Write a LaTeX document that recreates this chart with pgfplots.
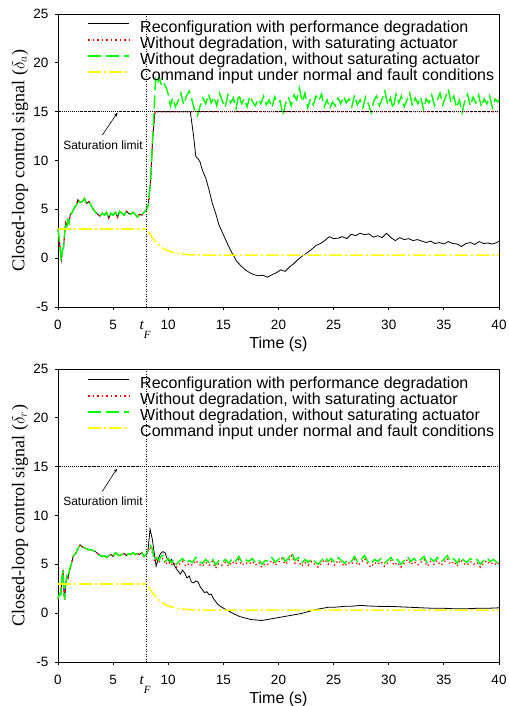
\documentclass[border=0pt]{standalone}
\usepackage{pgfplots}
\pgfplotsset{compat=1.18}
\usepackage{fontspec}
\setmainfont{Liberation Sans}
\newfontfamily\seriffont{Liberation Serif}
\usetikzlibrary{arrows.meta}
\definecolor{cgreen}{RGB}{0,255,0}
\definecolor{cyellow}{RGB}{255,255,0}
\definecolor{cred}{RGB}{255,0,0}
\pgfplotsset{
  myax/.style={
    scale only axis, width=441bp, height=293bp,
    xmin=0, xmax=40, ymin=-5, ymax=25,
    xtick={0,5,10,15,20,25,30,35,40},
    ytick={-5,0,5,10,15,20,25},
    tick align=outside, major tick length=3bp,
    xtick pos=bottom, ytick pos=left,
    axis line style={line width=0.9bp},
    tick style={line width=0.8bp, black},
    /pgf/number format/assume math mode=true,
    tick label style={font=\fontsize{13.5bp}{15bp}\selectfont},
    xticklabel style={yshift=-7bp},
    yticklabel style={xshift=-3bp},
    every axis y label/.style={at={(rel axis cs:-0.0862,0.5)}, rotate=90, anchor=center},
    every axis x label/.style={at={(rel axis cs:0.5,-0.1416)}, anchor=base},
    xlabel={\fontsize{16bp}{18bp}\selectfont Time (s)},
    legend style={draw=none, fill=none, anchor=north west,
      font=\fontsize{16bp}{16bp}\selectfont, row sep=0pt,
      nodes={inner sep=0pt, text height=11.5bp, text depth=4.5bp},
      /tikz/every odd column/.append style={column sep=10bp}},
    legend cell align=left,
    clip=false,
  },
  blk/.style={black, line width=0.8bp,
    legend image code/.code={\draw[black, line width=1bp] (0bp,5.5bp) -- (41bp,5.5bp);}},
  rdd/.style={cred, line width=1.3bp, dash pattern=on 1.3bp off 3bp,
    legend image code/.code={\draw[cred, line width=2bp, dash pattern=on 1.5bp off 3bp] (0bp,5.5bp) -- (41bp,5.5bp);}},
  grn/.style={cgreen, line width=1.4bp, dash pattern=on 13bp off 5bp,
    legend image code/.code={\draw[cgreen, line width=2bp, dash pattern=on 13bp off 5bp] (0bp,5.5bp) -- (41bp,5.5bp);}},
  yel/.style={cyellow, line width=1.5bp, dash pattern=on 13bp off 3bp on 2bp off 3bp,
    legend image code/.code={\draw[cyellow, line width=2bp, dash pattern=on 13bp off 3bp on 2bp off 3bp] (0bp,5.5bp) -- (41bp,5.5bp);}},
}
\begin{document}
\begin{tikzpicture}
\path[use as bounding box] (0bp,0bp) rectangle (509bp,-706bp);
% ---------------- top panel ----------------
\begin{axis}[myax, at={(58bp,-307bp)}, anchor=south west,
  legend style={at={(rel axis cs:0.059,0.98294)}},
  ylabel={\fontsize{18bp}{20bp}\selectfont\seriffont Closed-loop control signal ($\delta_{a}$)}]
\addplot[blk] coordinates {
(0,3.0) (0.15,1.5) (0.3,-0.2) (0.4,0.8) (0.5,1.1) (0.6,2.5) (0.7,3.6) (0.8,3.3) (0.9,3.9) (1.0,3.6) (1.1,4.4) (1.3,4.7) (1.5,5.2) (1.7,5.5) (1.8,6.0) (2.0,5.7) (2.2,5.8) (2.4,6.1) (2.6,5.6) (2.8,5.8) (3.0,5.4) (3.2,5.0) (3.4,4.7) (3.6,4.5) (3.8,4.3) (4.0,4.6) (4.2,4.4) (4.4,4.7) (4.6,4.1) (4.8,4.6) (5.0,4.4) (5.2,4.7) (5.4,4.2) (5.6,4.8) (5.8,4.6) (6.0,4.4) (6.2,4.8) (6.4,4.6) (6.6,4.5) (6.8,4.7) (7.0,4.5) (7.2,4.2) (7.4,4.5) (7.6,4.4) (7.8,4.7) (8.0,4.9) (8.2,5.5) (8.4,8.0) (8.6,12.5)
(8.8,15) (12.0,15) (12.3,12.5) (12.5,10.4) (12.7,10.2) (12.9,9.8) (13.1,9.0) (13.4,8.2) (13.7,7.0) (14.0,5.6) (14.3,4.6) (14.6,3.4) (15.0,2.4) (15.4,1.4) (15.8,0.5) (16.2,-0.3) (16.6,-0.8) (17.0,-1.2) (17.4,-1.5) (17.8,-1.7) (18.2,-1.8) (18.6,-1.75) (19.0,-1.95) (19.4,-1.7) (19.8,-1.5) (20.2,-1.2) (20.6,-1.35) (21.0,-0.9) (21.4,-0.55) (21.8,-0.1) (22.2,0.25) (22.6,0.55) (23.0,0.9) (23.4,1.3) (23.8,1.5) (24.2,1.8) (24.6,2.2) (25.0,2.0) (25.4,2.05) (25.8,2.2) (26.2,2.0) (26.6,2.45) (27.0,2.3) (27.4,2.55) (27.8,2.4) (28.2,2.5) (28.6,2.15) (29.0,2.3) (29.4,2.1) (29.8,2.55) (30.2,2.1) (30.6,1.8) (31.0,2.1) (31.4,1.9) (31.8,2.0) (32.2,1.8) (32.6,1.9) (33.0,1.75) (33.4,1.6) (33.8,1.75) (34.2,1.5) (34.6,1.6) (35.0,1.45) (35.4,1.7) (35.8,1.5) (36.2,1.45) (36.6,1.2) (37.0,1.5) (37.4,1.6) (37.8,1.4) (38.2,1.7) (38.6,1.5) (39.0,1.55) (39.4,1.45) (39.8,1.6) (40,1.75)};
\addlegendentry{Reconfiguration with performance degradation}
\addplot[rdd] coordinates {
(0,3.0) (0.15,1.5) (0.3,-0.2) (0.4,0.8) (0.5,1.1) (0.6,2.5) (0.7,3.6) (0.8,3.3) (0.9,3.9) (1.0,3.6) (1.1,4.4) (1.3,4.7) (1.5,5.2) (1.7,5.5) (1.8,6.0) (2.0,5.7) (2.2,5.8) (2.4,6.1) (2.6,5.6) (2.8,5.8) (3.0,5.4) (3.2,5.0) (3.4,4.7) (3.6,4.5) (3.8,4.3) (4.0,4.6) (4.2,4.4) (4.4,4.7) (4.6,4.1) (4.8,4.6) (5.0,4.4) (5.2,4.7) (5.4,4.2) (5.6,4.8) (5.8,4.6) (6.0,4.4) (6.2,4.8) (6.4,4.6) (6.6,4.5) (6.8,4.7) (7.0,4.5) (7.2,4.2) (7.4,4.5) (7.6,4.4) (7.8,4.7) (8.0,4.9) (8.2,5.5) (8.4,8.0) (8.6,12.5)
(8.8,15) (40,15)};
\addlegendentry{Without degradation, with saturating actuator}
\addplot[grn] coordinates {
(0,3.0) (0.15,1.5) (0.3,-0.2) (0.4,0.8) (0.5,1.1) (0.6,2.5) (0.7,3.6) (0.8,3.3) (0.9,3.9) (1.0,3.6) (1.1,4.4) (1.3,4.7) (1.5,5.2) (1.7,5.5) (1.8,6.0) (2.0,5.7) (2.2,5.8) (2.4,6.1) (2.6,5.6) (2.8,5.8) (3.0,5.4) (3.2,5.0) (3.4,4.7) (3.6,4.5) (3.8,4.3) (4.0,4.6) (4.2,4.4) (4.4,4.7) (4.6,4.1) (4.8,4.6) (5.0,4.4) (5.2,4.7) (5.4,4.2) (5.6,4.8) (5.8,4.6) (6.0,4.4) (6.2,4.8) (6.4,4.6) (6.6,4.5) (6.8,4.7) (7.0,4.5) (7.2,4.2) (7.4,4.5) (7.6,4.4) (7.8,4.7) (8.0,4.9) (8.2,5.5) (8.4,8.0) (8.6,12.5)
(8.75,16) (8.85,18.3) (9.0,17.8) (9.2,18.5) (9.4,17.6) (9.6,17.9) (9.8,17.5) (10.0,16.8) (10.2,15.6)
(10.4,16.4) (10.65,15.5) (10.9,16.1) (11.15,16.9) (11.4,15.7) (11.65,16.6) (11.9,17.1) (12.15,16.2) (12.4,15.1) (12.65,14.6) (12.9,15.6) (13.15,16.4) (13.4,15.8) (13.65,16.8) (13.9,15.9) (14.15,16.5) (14.4,15.6) (14.65,16.9) (14.9,16.1) (15.15,15.4) (15.4,16.7) (15.65,15.9) (15.9,16.4) (16.15,15.3) (16.4,16.8) (16.65,15.8) (16.9,16.3) (17.15,15.5) (17.4,16.6) (17.65,16.0) (17.9,15.6) (18.15,16.3) (18.4,15.8) (18.65,16.6) (18.9,15.7) (19.15,16.2) (19.4,15.4) (19.65,16.5) (19.9,15.9) (20.15,16.1) (20.4,14.6) (20.65,15.9) (20.9,16.5) (21.15,15.6) (21.4,16.7) (21.65,16.2) (21.9,17.4) (22.15,16.0) (22.4,16.9) (22.65,15.4) (22.9,16.3) (23.15,15.7) (23.4,16.6) (23.65,16.1) (23.9,16.8) (24.15,15.5) (24.4,16.2) (24.65,15.3) (24.9,16.0) (25.15,15.6) (25.4,16.4) (25.65,15.8) (25.9,16.6) (26.15,15.9) (26.4,16.3) (26.65,15.5) (26.9,16.7) (27.15,15.7) (27.4,16.2) (27.65,15.4) (27.9,16.5) (28.15,15.8) (28.4,14.9) (28.65,16.1) (28.9,16.6) (29.15,15.6) (29.4,16.3) (29.65,17.1) (29.9,15.7) (30.15,16.4) (30.4,15.3) (30.65,16.8) (30.9,15.9) (31.15,16.6) (31.4,15.5) (31.65,16.2) (31.9,16.9) (32.15,15.6) (32.4,16.4) (32.65,15.8) (32.9,16.5) (33.15,15.2) (33.4,16.3) (33.65,15.9) (33.9,16.7) (34.15,15.6) (34.4,16.2) (34.65,16.9) (34.9,15.7) (35.15,16.5) (35.4,17.3) (35.65,15.9) (35.9,16.6) (36.15,15.4) (36.4,16.2) (36.65,14.9) (36.9,16.1) (37.15,16.8) (37.4,15.6) (37.65,16.5) (37.9,15.9) (38.15,16.7) (38.4,15.5) (38.65,16.3) (38.9,15.8) (39.15,16.6) (39.4,15.4) (39.65,16.3) (39.9,16.0) (40,16.2)};
\addlegendentry{Without degradation, without saturating actuator}
\addplot[yel] coordinates {
(0,3) (8,3)};
\addlegendentry{Command input under normal and fault conditions}
\addplot[yel, forget plot] coordinates {
(8.2,2.7) (8.5,2.2) (8.8,1.75) (9.1,1.4) (9.4,1.1) (9.7,0.9) (10.0,0.75) (10.4,0.6) (10.8,0.5) (11.3,0.42) (12,0.35) (13,0.32) (14,0.3) (40,0.3)};
\addplot[black, line width=0.9bp, dash pattern=on 1.5bp off 0.8bp on 0.8bp off 0.8bp, forget plot] coordinates {(0,15) (40,15)};
\addplot[black, line width=1.1bp, dash pattern=on 1bp off 1.5bp, forget plot] coordinates {(8,-5) (8,25)};
\draw[-{Stealth[length=4bp,width=3bp]}, black, line width=0.6bp] (axis cs:4.02,12.6) -- (axis cs:5.4,14.9);
\node[font=\fontsize{12bp}{14bp}\selectfont] at (axis cs:4.08,11.55) {Saturation limit};
\node[font=\fontsize{15bp}{16bp}\selectfont\seriffont\itshape, anchor=base] at (axis cs:7.9,-7.3) {t\raisebox{-9bp}{\fontsize{11bp}{12bp}\selectfont F}};
\end{axis}
% ---------------- bottom panel ----------------
\begin{axis}[myax, at={(58bp,-662bp)}, anchor=south west,
  legend style={at={(rel axis cs:0.059,0.97952)}},
  ylabel={\fontsize{18bp}{20bp}\selectfont\seriffont Closed-loop control signal ($\delta_{r}$)}]
\addplot[blk] coordinates {
(0,1.5) (0.15,2.0) (0.25,1.9) (0.35,3.5) (0.45,4.4) (0.55,2.0) (0.6,1.4) (0.7,3.0) (0.8,3.8) (0.9,3.6) (1.0,4.2) (1.2,5.0) (1.4,5.9) (1.6,6.1) (1.8,6.6) (2.0,7.0) (2.2,6.8) (2.4,6.7) (2.6,6.6) (2.8,6.5) (3.0,6.5) (3.2,6.4) (3.4,6.3) (3.6,6.1) (3.8,5.9) (4.0,5.8) (4.2,5.9) (4.4,5.7) (4.6,5.9) (4.8,6.0) (5.0,5.8) (5.2,6.2) (5.4,6.0) (5.6,5.9) (5.8,6.0) (6.0,6.1) (6.2,5.9) (6.4,6.1) (6.6,6.0) (6.8,6.2) (7.0,6.0) (7.2,6.1) (7.4,6.0) (7.6,6.2) (7.8,5.8) (8.0,6.0)
(8.15,6.3) (8.35,8.6) (8.55,7.6) (8.75,6.0) (8.9,4.8) (9.1,5.6) (9.3,6.1) (9.5,6.3) (9.7,6.2) (9.9,5.6) (10.1,5.3) (10.3,5.5) (10.5,5.0) (10.7,4.6) (10.9,4.3) (11.1,4.0) (11.3,4.4) (11.5,4.1) (11.7,3.6) (11.9,3.8) (12.1,3.2) (12.3,3.1) (12.5,3.3) (12.7,3.2) (12.9,2.7) (13.1,2.4) (13.3,2.1) (13.5,2.2) (13.7,1.9) (13.9,1.95) (14.1,1.5) (14.3,1.2) (14.5,0.9) (14.8,0.65) (15.1,0.45) (15.5,0.2) (16.0,-0.1) (16.5,-0.35) (17.0,-0.5) (17.5,-0.65) (18.0,-0.7) (18.5,-0.75) (19.0,-0.65) (19.5,-0.55) (20.0,-0.45) (20.5,-0.35) (21.0,-0.25) (21.5,-0.15) (22.0,-0.05) (22.5,0.1) (23.0,0.25) (23.5,0.4) (24.0,0.5) (24.5,0.6) (25.0,0.6) (25.5,0.65) (26.0,0.7) (26.5,0.7) (27.0,0.75) (27.5,0.8) (28.0,0.75) (28.5,0.72) (29.0,0.7) (29.5,0.68) (30.0,0.7) (31,0.65) (32,0.6) (33,0.55) (34,0.5) (35,0.5) (36,0.45) (37,0.45) (38,0.5) (39,0.5) (40,0.55)};
\addlegendentry{Reconfiguration with performance degradation}
\addplot[rdd] coordinates {
(0,1.5) (0.15,2.0) (0.25,1.9) (0.35,3.5) (0.45,4.4) (0.55,2.0) (0.6,1.4) (0.7,3.0) (0.8,3.8) (0.9,3.6) (1.0,4.2) (1.2,5.0) (1.4,5.9) (1.6,6.1) (1.8,6.6) (2.0,7.0) (2.2,6.8) (2.4,6.7) (2.6,6.6) (2.8,6.5) (3.0,6.5) (3.2,6.4) (3.4,6.3) (3.6,6.1) (3.8,5.9) (4.0,5.8) (4.2,5.9) (4.4,5.7) (4.6,5.9) (4.8,6.0) (5.0,5.8) (5.2,6.2) (5.4,6.0) (5.6,5.9) (5.8,6.0) (6.0,6.1) (6.2,5.9) (6.4,6.1) (6.6,6.0) (6.8,6.2) (7.0,6.0) (7.2,6.1) (7.4,6.0) (7.6,6.2) (7.8,5.8) (8.0,6.0)
(8.15,6.3) (8.35,6.8) (8.55,6.3) (8.75,5.3) (8.95,5.5) (9.15,5.2) (9.35,5.5) (9.55,5.6) (9.75,5.0) (10.0,5.3) (10.25,4.9) (10.5,5.2) (10.75,4.7) (11.0,5.0) (11.3,5.3) (11.6,4.8) (11.9,5.1) (12.2,4.9) (12.5,5.4) (12.8,5.0) (13.1,4.8) (13.4,5.2) (13.7,4.9) (14.0,5.3) (14.3,4.6) (14.6,5.1) (14.9,4.9) (15.2,5.2) (15.5,4.8) (15.8,5.3) (16.1,5.0) (16.4,5.5) (16.7,4.9) (17.0,5.2) (17.3,5.0) (17.6,5.3) (17.9,4.9) (18.2,5.2) (18.5,4.7) (18.8,5.1) (19.1,5.0) (19.4,5.4) (19.7,4.9) (20.0,5.2) (20.3,5.6) (20.6,5.0) (20.9,5.3) (21.2,5.9) (21.5,5.1) (21.8,5.4) (22.1,4.8) (22.4,5.2) (22.7,4.9) (23.0,5.3) (23.3,5.0) (23.6,4.7) (23.9,5.1) (24.2,5.5) (24.5,5.0) (24.8,5.3) (25.1,4.9) (25.4,5.4) (25.7,5.1) (26.0,4.8) (26.3,5.2) (26.6,5.0) (26.9,5.5) (27.2,4.9) (27.5,5.2) (27.8,5.6) (28.1,5.0) (28.4,4.7) (28.7,5.2) (29.0,5.0) (29.3,5.3) (29.6,4.8) (29.9,5.1) (30.2,5.4) (30.5,4.9) (30.8,5.2) (31.1,4.7) (31.4,5.1) (31.7,5.5) (32.0,5.0) (32.3,5.3) (32.6,4.9) (32.9,5.2) (33.2,5.5) (33.5,4.8) (33.8,5.3) (34.1,5.0) (34.4,5.4) (34.7,4.9) (35.0,5.2) (35.3,5.6) (35.6,5.0) (35.9,5.3) (36.2,4.8) (36.5,5.5) (36.8,5.1) (37.1,4.9) (37.4,5.3) (37.7,5.0) (38.0,5.2) (38.3,4.7) (38.6,5.1) (38.9,5.4) (39.2,5.0) (39.5,5.2) (39.8,4.9) (40.0,5.2)};
\addlegendentry{Without degradation, with saturating actuator}
\addplot[grn] coordinates {
(0,1.5) (0.15,2.0) (0.25,1.9) (0.35,3.5) (0.45,4.4) (0.55,2.0) (0.6,1.4) (0.7,3.0) (0.8,3.8) (0.9,3.6) (1.0,4.2) (1.2,5.0) (1.4,5.9) (1.6,6.1) (1.8,6.6) (2.0,7.0) (2.2,6.8) (2.4,6.7) (2.6,6.6) (2.8,6.5) (3.0,6.5) (3.2,6.4) (3.4,6.3) (3.6,6.1) (3.8,5.9) (4.0,5.8) (4.2,5.9) (4.4,5.7) (4.6,5.9) (4.8,6.0) (5.0,5.8) (5.2,6.2) (5.4,6.0) (5.6,5.9) (5.8,6.0) (6.0,6.1) (6.2,5.9) (6.4,6.1) (6.6,6.0) (6.8,6.2) (7.0,6.0) (7.2,6.1) (7.4,6.0) (7.6,6.2) (7.8,5.8) (8.0,6.0)
(8.15,6.4) (8.35,7.0) (8.55,6.6) (8.75,5.4) (8.95,5.7) (9.15,5.4) (9.35,5.8) (9.55,5.9) (9.75,5.3) (10.0,5.6) (10.25,5.2) (10.5,5.5) (10.75,5.0) (11.0,5.3) (11.3,5.6) (11.6,5.1) (11.9,5.4) (12.2,5.2) (12.5,5.7) (12.8,5.3) (13.1,5.1) (13.4,5.5) (13.7,5.2) (14.0,5.6) (14.3,4.9) (14.6,5.4) (14.9,5.2) (15.2,5.5) (15.5,5.1) (15.8,5.6) (16.1,5.3) (16.4,5.8) (16.7,5.2) (17.0,5.5) (17.3,5.3) (17.6,5.6) (17.9,5.2) (18.2,5.5) (18.5,5.0) (18.8,5.4) (19.1,5.3) (19.4,5.7) (19.7,5.2) (20.0,5.5) (20.3,5.9) (20.6,5.3) (20.9,5.6) (21.2,6.2) (21.5,5.4) (21.8,5.7) (22.1,5.1) (22.4,5.5) (22.7,5.2) (23.0,5.6) (23.3,5.3) (23.6,5.0) (23.9,5.4) (24.2,5.8) (24.5,5.3) (24.8,5.6) (25.1,5.2) (25.4,5.7) (25.7,5.4) (26.0,5.1) (26.3,5.5) (26.6,5.3) (26.9,5.8) (27.2,5.2) (27.5,5.5) (27.8,5.9) (28.1,5.3) (28.4,5.0) (28.7,5.5) (29.0,5.3) (29.3,5.6) (29.6,5.1) (29.9,5.4) (30.2,5.7) (30.5,5.2) (30.8,5.5) (31.1,5.0) (31.4,5.4) (31.7,5.8) (32.0,5.3) (32.3,5.6) (32.6,5.2) (32.9,5.5) (33.2,5.8) (33.5,5.1) (33.8,5.6) (34.1,5.3) (34.4,5.7) (34.7,5.2) (35.0,5.5) (35.3,5.9) (35.6,5.3) (35.9,5.6) (36.2,5.1) (36.5,5.8) (36.8,5.4) (37.1,5.2) (37.4,5.6) (37.7,5.3) (38.0,5.5) (38.3,5.0) (38.6,5.4) (38.9,5.7) (39.2,5.3) (39.5,5.5) (39.8,5.2) (40.0,5.8)};
\addlegendentry{Without degradation, without saturating actuator}
\addplot[yel] coordinates {
(0,3) (8,3)};
\addlegendentry{Command input under normal and fault conditions}
\addplot[yel, forget plot] coordinates {
(8.2,2.7) (8.5,2.2) (8.8,1.75) (9.1,1.4) (9.4,1.1) (9.7,0.9) (10.0,0.75) (10.4,0.6) (10.8,0.5) (11.3,0.42) (12,0.35) (13,0.32) (14,0.3) (40,0.3)};
\addplot[black, line width=0.9bp, dash pattern=on 1.5bp off 0.8bp on 0.8bp off 0.8bp, forget plot] coordinates {(0,15) (40,15)};
\addplot[black, line width=1.1bp, dash pattern=on 1bp off 1.5bp, forget plot] coordinates {(8,-5) (8,25)};
\draw[-{Stealth[length=4bp,width=3bp]}, black, line width=0.6bp] (axis cs:4.02,12.47) -- (axis cs:5.35,14.8);
\node[font=\fontsize{12bp}{14bp}\selectfont] at (axis cs:4.08,11.5) {Saturation limit};
\node[font=\fontsize{15bp}{16bp}\selectfont\seriffont\itshape, anchor=base] at (axis cs:7.9,-7.3) {t\raisebox{-9bp}{\fontsize{11bp}{12bp}\selectfont F}};
\end{axis}
\end{tikzpicture}
\end{document}
